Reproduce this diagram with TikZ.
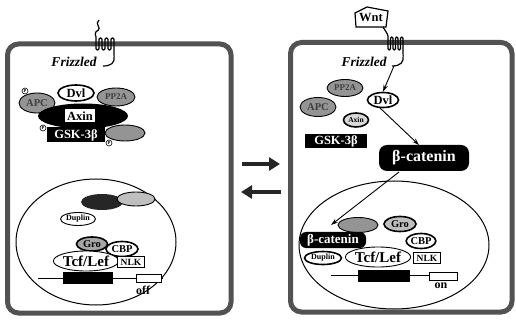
\documentclass[tikz,border=0pt]{standalone}
\usepackage{fontspec}
\setmainfont{Liberation Serif}
\usetikzlibrary{shapes.geometric,arrows.meta}
\newcommand{\fs}[1]{\fontsize{#1}{#1}\selectfont}
\begin{document}
\begin{tikzpicture}[x=1pt,y=-1pt,
  membrane/.style={draw=black!68,line width=5pt,rounded corners=11pt},
  nucleus/.style={draw,line width=1pt},
  prot/.style={ellipse,draw,line width=0.9pt,inner sep=0pt,fill=white,font=\bfseries\fs{10.5}},
  greyprot/.style={prot,fill=black!42,text=black!75},
  thickprot/.style={prot,line width=1.6pt},
  blackprot/.style={ellipse,fill=black,inner sep=0pt,text=white,font=\bfseries\fs{10}},
  blackbox/.style={rectangle,fill=black,inner sep=0pt,text=white,font=\bfseries\fs{12.5}},
  pill/.style={rectangle,rounded corners=8pt,fill=black,inner sep=0pt,text=white,font=\bfseries\fs{16}},
  wbox/.style={rectangle,draw,line width=0.9pt,fill=white,inner sep=0pt,font=\bfseries\fs{9.5}},
  pc/.style={circle,draw,line width=0.6pt,fill=white,inner sep=0pt,minimum size=6pt,font=\bfseries\fs{4.5}},
  receptor/.style={draw,line width=1.2pt,rounded corners=1.2pt},
  label/.style={inner sep=0pt,font=\bfseries\itshape\fs{13.5}},
  sig/.style={draw,line width=0.9pt,-{Stealth[length=7pt,width=4.5pt]}},
  swap/.style={draw=black!85,line width=4.5pt,-{Triangle[length=11pt,width=13pt]}},
  dna/.style={draw,line width=1pt}
]
\useasboundingbox (0,0) rectangle (516,320);

% ---------- resting cell ----------
\draw[membrane] (7.5,44) rectangle (231,313);
\draw[receptor] (99,20) .. controls (94,24) and (102,28) .. (97,31)
  .. controls (94,33) and (96,36) .. (96,38)
  -- (96,50) -- (99,50) -- (99,38) -- (102,38) -- (102,50) -- (105,50) -- (105,38)
  -- (108,38) -- (108,50) -- (111,50) -- (111,38) -- (114,38) -- (114,55)
  .. controls (115,63) and (111,66) .. (103,66);
\node[label] (frzL) at (74,62) {Frizzled};

\node[greyprot,minimum width=36pt,minimum height=20pt] (apcL) at (37,103) {APC};
\node[blackprot,minimum width=90pt,minimum height=25pt] (axinL) at (83,116) {};
\node[rectangle,fill=white,inner sep=1pt,minimum width=30pt,minimum height=13pt,font=\bfseries\fs{12.5}] (axinLt) at (80,116) {Axin};
\node[thickprot,minimum width=36pt,minimum height=16pt,font=\bfseries\fs{12.5}] (dvlL) at (76,93) {Dvl};
\node[greyprot,minimum width=38pt,minimum height=18pt,font=\bfseries\fs{9}] (pp2aL) at (116,97) {PP2A};
\node[greyprot,minimum width=40pt,minimum height=16pt] (ckL) at (125,133) {};
\node[blackbox,minimum width=58pt,minimum height=15pt] (gskL) at (76,135) {GSK-3β};
\node[pc] (pL1) at (25,91) {P};
\node[pc] (pL2) at (43,128) {P};
\node[pc] (pL3) at (109,143) {P};

\draw[nucleus] (96,242) ellipse [x radius=80, y radius=63];
\node[blackprot,fill=black!85,minimum width=42pt,minimum height=16pt] (darkL) at (102,202) {};
\node[prot,fill=black!25,minimum width=38pt,minimum height=14pt] (greyL) at (136,199) {};
\node[prot,minimum width=35pt,minimum height=13pt,font=\bfseries\fs{8}] (duplinL) at (78,219) {Duplin};
\node[thickprot,fill=black!35,minimum width=31pt,minimum height=14pt] (groL) at (92,244) {Gro};
\node[thickprot,minimum width=32pt,minimum height=15pt] (cbpL) at (122,249) {CBP};
\node[prot,minimum width=63pt,minimum height=20pt,font=\bfseries\fs{15}] (tcfL) at (86,261) {Tcf/Lef};
\node[wbox,minimum width=27pt,minimum height=11pt] (nlkL) at (131,262) {NLK};
\draw[dna] (38,278) -- (163,278);
\node[rectangle,fill=black,inner sep=0pt,minimum width=50pt,minimum height=12pt] (siteL) at (88,278) {};
\node[wbox,minimum width=25pt,minimum height=8pt] (geneL) at (149,278) {};
\node[inner sep=0pt,font=\bfseries\fs{12}] (offL) at (143,290) {off};

% ---------- switching arrows ----------
\coordinate (swA) at (242,164);
\coordinate (swB) at (280,164);
\coordinate (swC) at (281,192);
\coordinate (swD) at (241,192);
\draw[swap] (swA) -- (swB);
\draw[swap] (swC) -- (swD);

% ---------- stimulated cell ----------
\draw[membrane] (290.5,42.5) rectangle (512,312);
\draw[line width=1.2pt,fill=white] (355,13) -- (367,7) -- (388,11) -- (386,27) -- (356,27) -- cycle;
\node[inner sep=0pt,font=\bfseries\fs{12.5}] (wnt) at (371,18) {Wnt};
\draw[receptor] (383,27) -- (388,35) -- (388,50) -- (390.5,50) -- (390.5,37) -- (393,37) -- (393,50)
  -- (395.5,50) -- (395.5,37) -- (398,37) -- (398,50) -- (400.5,50) -- (400.5,37) -- (403,37) -- (403,54)
  .. controls (404,62) and (401,66) .. (392,66);
\coordinate (frzR) at (394,66);
\node[label] (frzLabR) at (364,62) {Frizzled};

\node[greyprot,minimum width=36pt,minimum height=17pt,font=\bfseries\fs{9}] (pp2aR) at (345,88) {PP2A};
\node[greyprot,minimum width=36pt,minimum height=19pt] (apcR) at (318,107) {APC};
\node[thickprot,fill=black!15,minimum width=25pt,minimum height=14pt,font=\bfseries\fs{7.5}] (axinR) at (356,120) {Axin};
\node[blackbox,minimum width=62pt,minimum height=14pt] (gskR) at (336,141) {GSK-3β};
\node[thickprot,minimum width=31pt,minimum height=15pt,font=\bfseries\fs{12.5}] (dvlR) at (383,100) {Dvl};
\node[pill,minimum width=90pt,minimum height=26pt] (bcatR) at (424,158) {β-catenin};

\draw[nucleus] (394,245) ellipse [x radius=95, y radius=64];
\node[greyprot,minimum width=40pt,minimum height=15pt] (greyR) at (358,225) {};
\node[thickprot,fill=black!25,minimum width=32pt,minimum height=15pt] (groR) at (400,224) {Gro};
\node[pill,rounded corners=6pt,minimum width=66pt,minimum height=16pt,font=\bfseries\fs{13}] (bcatN) at (333,240) {β-catenin};
\node[thickprot,minimum width=28pt,minimum height=15pt] (cbpR) at (421,241) {CBP};
\node[thickprot,minimum width=37pt,minimum height=13pt,font=\bfseries\fs{8}] (duplinR) at (323,258) {Duplin};
\node[prot,minimum width=63pt,minimum height=20pt,font=\bfseries\fs{15}] (tcfR) at (378,257) {Tcf/Lef};
\node[wbox,minimum width=27pt,minimum height=11pt] (nlkR) at (427,258) {NLK};
\draw[dna] (331,275) -- (456,275);
\node[rectangle,fill=black,inner sep=0pt,minimum width=52pt,minimum height=12pt] (siteR) at (384,276) {};
\node[wbox,minimum width=28pt,minimum height=8pt] (geneR) at (443,276) {};
\node[inner sep=0pt,font=\bfseries\fs{12}] (onR) at (441,286) {on};

% signalling arrows
\coordinate (dvlOut) at (380,108);
\coordinate (bcatIn) at (419,145);
\coordinate (bcatOut) at (399,172);
\coordinate (nucIn) at (331,225);
\draw[sig] (frzR) -- (dvlR.north);
\draw[sig] (dvlOut) -- (bcatIn);
\draw[sig] (bcatOut) -- (nucIn);
\end{tikzpicture}
\end{document}
